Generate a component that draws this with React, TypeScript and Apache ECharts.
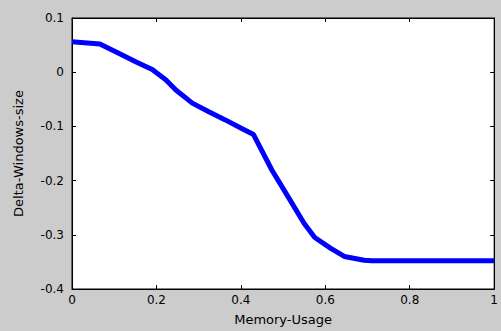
import React, { useEffect, useRef } from "react";
import * as echarts from "echarts";

const memoryUsage = [0, 0.066, 0.113, 0.152, 0.19, 0.222, 0.246, 0.285, 0.324, 0.363, 0.402, 0.43, 0.473, 0.512, 0.55, 0.575, 0.613, 0.645, 0.692, 0.71, 1];
const deltaWindowsSize = [0.056, 0.052, 0.034, 0.019, 0.005, -0.014, -0.033, -0.057, -0.073, -0.088, -0.104, -0.115, -0.18, -0.23, -0.279, -0.305, -0.325, -0.34, -0.347, -0.348, -0.348];
const xName = "Memory-Usage";
const yName = "Delta-Windows-size";

export default function App() {
  const ref = useRef<HTMLDivElement>(null);
  useEffect(() => {
    if (!ref.current) return;
    const chart = echarts.init(ref.current, null, { renderer: "svg" });
    const font = "DejaVu Sans";
    const tickStyle = { show: true, inside: true, length: 4, lineStyle: { color: "#000" } };
    const lineStyle = { show: true, onZero: false, lineStyle: { color: "#000" } };
    chart.setOption({
      animation: false,
      backgroundColor: "#cccccc",
      grid: {
        left: 72,
        top: 18,
        right: 3,
        bottom: 42,
        show: true,
        backgroundColor: "#ffffff",
        borderColor: "#000",
        borderWidth: 1,
      },
      xAxis: [
        {
          type: "value",
          min: 0,
          max: 1,
          interval: 0.2,
          name: xName,
          nameLocation: "middle",
          nameGap: 24,
          nameTextStyle: { color: "#000", fontFamily: font, fontSize: 13 },
          axisLine: lineStyle,
          axisTick: tickStyle,
          splitLine: { show: false },
          axisLabel: { color: "#000", fontFamily: font, fontSize: 12, margin: 5 },
        },
        {
          type: "value",
          position: "top",
          min: 0,
          max: 1,
          interval: 0.2,
          axisLine: lineStyle,
          axisTick: tickStyle,
          splitLine: { show: false },
          axisLabel: { show: false },
        },
      ],
      yAxis: [
        {
          type: "value",
          min: -0.4,
          max: 0.1,
          interval: 0.1,
          name: yName,
          nameLocation: "middle",
          nameGap: 47,
          nameTextStyle: { color: "#000", fontFamily: font, fontSize: 13 },
          axisLine: lineStyle,
          axisTick: tickStyle,
          splitLine: { show: false },
          axisLabel: { color: "#000", fontFamily: font, fontSize: 12, margin: 8 },
        },
        {
          type: "value",
          position: "right",
          min: -0.4,
          max: 0.1,
          interval: 0.1,
          axisLine: lineStyle,
          axisTick: tickStyle,
          splitLine: { show: false },
          axisLabel: { show: false },
        },
      ],
      series: [
        {
          type: "line",
          xAxisIndex: 0,
          yAxisIndex: 0,
          data: memoryUsage.map((x, i) => [x, deltaWindowsSize[i]]),
          showSymbol: false,
          smooth: false,
          lineStyle: { color: "#0000ff", width: 5 },
          itemStyle: { color: "#0000ff" },
        },
      ],
    });
    return () => chart.dispose();
  }, []);
  return (
    <div
      ref={ref}
      style={{ position: "fixed", left: 0, top: 0, width: 501, height: 331 }}
    />
  );
}
